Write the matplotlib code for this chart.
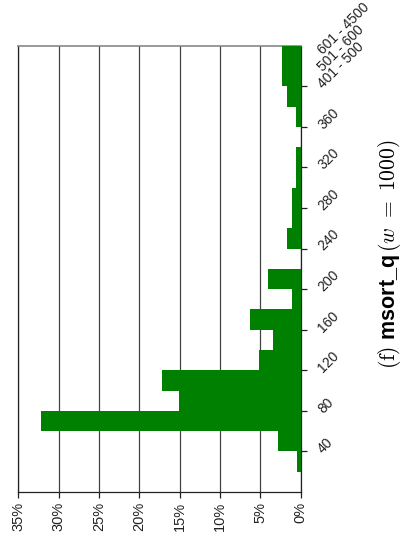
import numpy as np
from matplotlib import pyplot as plt

plt.rcParams['font.family'] = ['Liberation Sans', 'DejaVu Sans']
plt.rcParams['mathtext.fontset'] = 'custom'
plt.rcParams['mathtext.rm'] = 'cmr10'
plt.rcParams['mathtext.it'] = 'cmmi10'
plt.rcParams['mathtext.bf'] = 'Liberation Sans:bold'

# histogram bins (lower edge of each 20-wide slot) and share of runs in %
bin_lower = [0, 20, 40, 60, 80, 100, 120, 140, 160, 180, 200,
             220, 240, 260, 280, 300, 320, 340, 360, 380, 400, 420]
share = [0, 0.5, 2.8, 32.2, 15.1, 17.2, 5.2, 3.4, 6.3, 1.1, 4.1,
         0, 1.7, 1.1, 1.1, 0.6, 0.6, 0, 0.6, 1.7, 2.3, 2.3]
bin_width = 20

cat_ticks = [40, 80, 120, 160, 200, 240, 280, 320, 360, 400]
cat_labels = ['40', '80', '120', '160', '200', '240', '280', '320', '360', '401 - 500']
extra_ticks = [417, 434]
extra_labels = ['501 - 600', '601 - 4500']
pct_ticks = [0, 5, 10, 15, 20, 25, 30, 35]

fig = plt.figure(figsize=(4.02, 5.41), dpi=100)
ax = fig.add_axes([0.046, 0.0906, 0.702, 0.825])

ax.barh(bin_lower, share, height=bin_width, align='edge',
        color='#008000', linewidth=0, zorder=3)

ax.set_xlim(35, 0)
ax.set_ylim(0, 440)

ax.set_xticks(pct_ticks)
ax.set_xticklabels([f'{p}%' for p in pct_ticks], rotation=90, fontsize=10.5,
                   color='#222222')
ax.grid(axis='x', color='#444444', linewidth=0.9, zorder=1)

ax.yaxis.tick_right()
ax.set_yticks(cat_ticks)
ax.set_yticklabels(cat_labels, rotation=45, fontsize=10, color='#222222',
                   ha='left', va='center', rotation_mode='anchor')
ax.set_yticks(extra_ticks, extra_labels, minor=True)
for lab in ax.get_yticklabels(minor=True):
    lab.set_rotation(45)
    lab.set_rotation_mode('anchor')
    lab.set_ha('left')
    lab.set_va('center')
    lab.set_fontsize(10)
    lab.set_color('#222222')
ax.tick_params(axis='y', which='major', direction='out', length=4, width=0.9,
               pad=10, color='#222222')
ax.tick_params(axis='y', which='minor', length=0, pad=14)
ax.tick_params(axis='x', direction='out', length=4, width=0.9, pad=3,
               color='#222222')

for side in ['left', 'right', 'bottom']:
    ax.spines[side].set_color('#222222')
    ax.spines[side].set_linewidth(0.9)
ax.spines['top'].set_color('#888888')
ax.spines['top'].set_linewidth(1.2)

fig.text(0.968, 0.530, r'$\mathrm{(f)}\ \mathbf{msort\_q}\,(w\ =\ 1000)$',
         rotation=90, ha='center', va='center', fontsize=15.5)

plt.savefig('out.png', dpi=100)
